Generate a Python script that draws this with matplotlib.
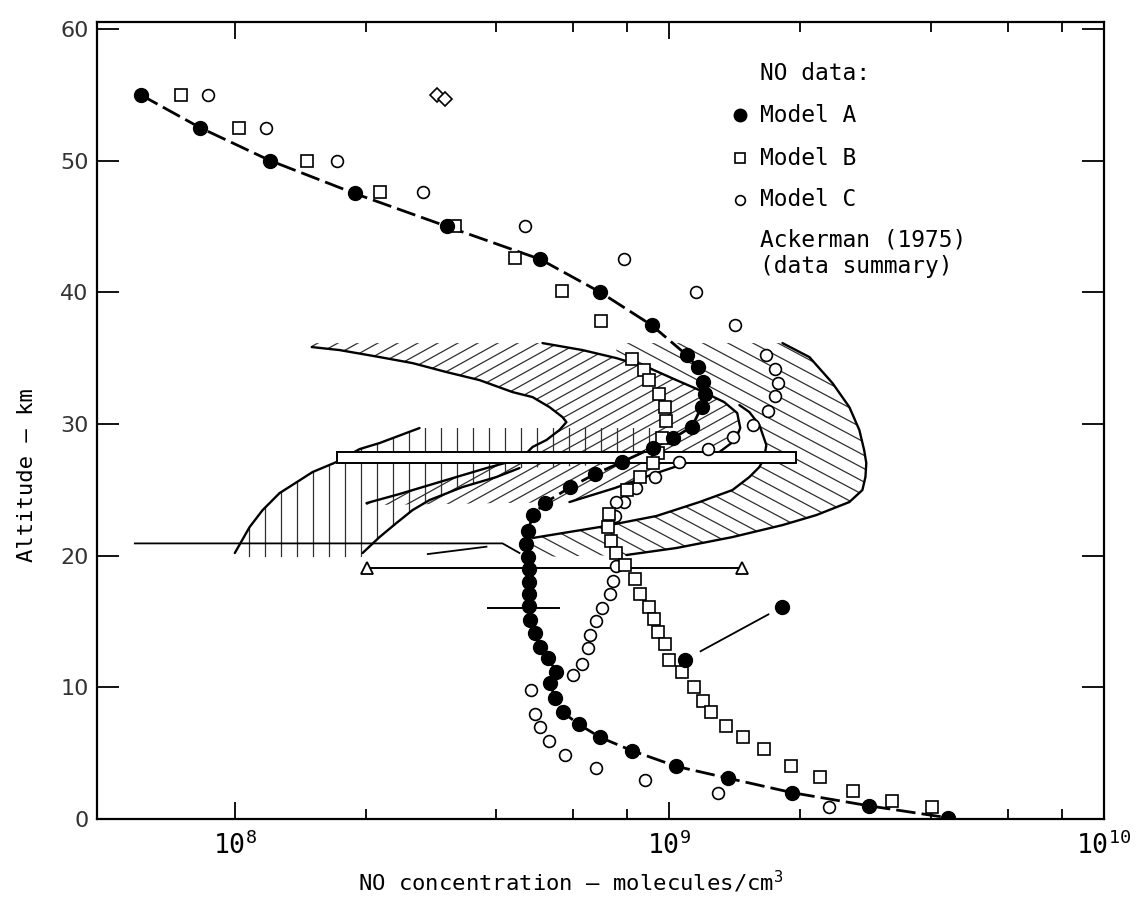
import numpy as np
import matplotlib
matplotlib.use("Agg")
import matplotlib.pyplot as plt
from matplotlib.collections import LineCollection
from matplotlib.patches import Polygon, Rectangle
from matplotlib.ticker import FixedLocator, FuncFormatter, NullFormatter

plt.rcParams['font.family'] = ['DejaVu Sans Mono', 'DejaVu Sans']
plt.rcParams['mathtext.fontset'] = 'custom'
plt.rcParams['mathtext.rm'] = 'DejaVu Sans Mono'
plt.rcParams['mathtext.it'] = 'DejaVu Sans Mono'
plt.rcParams['mathtext.bf'] = 'DejaVu Sans Mono:bold'

# ---------------- data (log10 of NO concentration, altitude km) ----------------
modelA_logc = [7.783, 7.920, 8.081, 8.276, 8.488, 8.703, 8.841, 8.959, 9.041, 9.065,
               9.077, 9.082, 9.074, 9.052, 9.008, 8.962, 8.890, 8.829, 8.772, 8.713,
               8.687, 8.674, 8.671, 8.674, 8.676, 8.678, 8.677, 8.677, 8.680, 8.690,
               8.703, 8.720, 8.740, 8.726, 8.736, 8.755, 8.791, 8.841, 8.913, 9.016,
               9.135, 9.283, 9.460, 9.640]
modelA_alt = [55.0, 52.5, 50.0, 47.5, 45.0, 42.5, 40.0, 37.5, 35.2, 34.3,
              33.2, 32.3, 31.3, 29.8, 28.9, 28.2, 27.1, 26.2, 25.2, 24.0,
              23.1, 21.9, 20.9, 19.9, 19.0, 18.0, 17.1, 16.2, 15.1, 14.1,
              13.1, 12.2, 11.2, 10.3, 9.2, 8.1, 7.2, 6.2, 5.2, 4.0,
              3.1, 2.0, 1.0, 0.1]

modelB_logc = [7.877, 8.009, 8.166, 8.335, 8.506, 8.645, 8.753, 8.843, 8.913, 8.941,
               8.954, 8.975, 8.990, 8.992, 8.983, 8.973, 8.963, 8.933, 8.903, 8.862,
               8.858, 8.866, 8.877, 8.897, 8.921, 8.933, 8.952, 8.964, 8.973, 8.989,
               9.000, 9.029, 9.056, 9.077, 9.096, 9.130, 9.169, 9.218, 9.280, 9.347,
               9.422, 9.512, 9.605]
modelB_alt = [55.0, 52.5, 50.0, 47.6, 45.0, 42.6, 40.1, 37.8, 34.9, 34.1,
              33.3, 32.3, 31.3, 30.2, 28.9, 27.8, 27.0, 26.0, 25.0, 23.2,
              22.2, 21.1, 20.2, 19.3, 18.2, 17.1, 16.1, 15.2, 14.2, 13.3,
              12.1, 11.2, 10.0, 9.0, 8.1, 7.1, 6.2, 5.3, 4.0, 3.2,
              2.1, 1.4, 0.9]

modelC_logc = [7.938, 8.071, 8.235, 8.434, 8.667, 8.895, 9.061, 9.152, 9.222, 9.244,
               9.249, 9.244, 9.226, 9.192, 9.146, 9.088, 9.023, 8.967, 8.922, 8.895,
               8.877, 8.874, 8.877, 8.870, 8.864, 8.845, 8.831, 8.818, 8.812, 8.799,
               8.779, 8.682, 8.691, 8.703, 8.722, 8.760, 8.831, 8.943, 9.111, 9.368]
modelC_alt = [55.0, 52.5, 50.0, 47.6, 45.0, 42.5, 40.0, 37.5, 35.2, 34.2,
              33.1, 32.1, 31.0, 29.9, 29.0, 28.1, 27.1, 26.0, 25.1, 24.1,
              24.1, 23.0, 19.2, 18.1, 17.1, 16.0, 15.0, 14.0, 13.0, 11.8,
              10.9, 9.8, 8.0, 7.0, 5.9, 4.9, 3.9, 3.0, 2.0, 0.9]

extraA_logc = [9.036, 9.259]
extraA_alt = [12.1, 16.1]

diamond_logc = [8.465, 8.483]
diamond_alt = [55.0, 54.7]

# Ackerman (1975) data-summary boundaries
N1_logc = [8.177, 8.241, 8.333, 8.409, 8.487, 8.563, 8.639, 8.685, 8.724, 8.754,
           8.763, 8.747, 8.717, 8.685, 8.667, 8.621, 8.579, 8.471, 8.379, 8.303]
N1_alt = [35.84, 35.61, 35.08, 34.62, 33.94, 33.33, 32.42, 32.04, 31.28, 30.52,
          30.14, 29.54, 28.78, 28.25, 27.64, 27.03, 26.65, 25.59, 24.68, 23.99]
N2_logc = [8.708, 8.800, 8.878, 8.954, 9.016, 9.069, 9.126, 9.156, 9.163, 9.152,
           9.115, 9.046, 8.970, 8.874, 8.770]
N2_alt = [36.14, 35.61, 35.00, 34.24, 33.33, 32.57, 31.66, 30.83, 29.69, 28.78,
          27.87, 27.11, 26.27, 25.13, 24.07]
N3_logc = [9.161, 9.184, 9.207, 9.223, 9.218, 9.207, 9.184, 9.145, 9.069, 8.970,
           8.839, 8.685]
N3_alt = [31.43, 30.90, 29.92, 28.40, 27.41, 26.73, 25.97, 24.98, 24.07, 23.01,
          22.17, 21.34]
O_logc = [9.260, 9.322, 9.375, 9.414, 9.437, 9.448, 9.453, 9.451, 9.444, 9.414,
          9.338, 9.260, 9.145, 9.016, 8.901]
O_alt = [36.14, 35.08, 33.11, 31.28, 29.54, 28.02, 27.03, 25.97, 24.98, 24.07,
         23.08, 22.32, 21.41, 20.58, 20.05]
L1_logc = [8.000, 8.034, 8.064, 8.103, 8.143, 8.179, 8.234, 8.287, 8.333, 8.425]
L1_alt = [20.20, 22.17, 23.46, 24.75, 25.59, 26.35, 27.11, 28.09, 28.55, 29.69]
L2_logc = [8.294, 8.333, 8.372, 8.409, 8.448, 8.524, 8.602, 8.655]
L2_alt = [20.20, 21.41, 22.48, 23.46, 24.22, 25.21, 25.97, 26.65]

H1_logc = [7.770, 8.616, 8.655]
H1_alt = [20.93, 20.93, 20.20]
A1_logc = [8.444, 8.579]
A1_alt = [20.12, 20.68]

bar_logc = [8.234, 9.292]
bar_alt = [27.01, 27.89]
tri_logc = [8.303, 9.166]
tri_alt = 19.06
short_logc = [8.582, 8.747]
short_alt = 16.04

legend_labels = ['Model A', 'Model B', 'Model C']

# ---------------- figure ----------------
fig = plt.figure(figsize=(11.39, 9.14), dpi=100)
fig.patch.set_facecolor('white')
ax = fig.add_axes([0.0852, 0.1039, 0.8841, 0.8720])
ax.set_xscale('log')
ax.set_xlim(10 ** 7.683, 1e10)
ax.set_ylim(0, 60.52)
ax.set_autoscale_on(False)

W, H = ax.bbox.width, ax.bbox.height


def P(lc):
    return 10 ** np.asarray(lc, dtype=float)


def add_hatch(poly_logc, poly_alt, angle, spacing, lw=0.9, color='#303030'):
    verts = np.column_stack([P(poly_logc), poly_alt])
    patch = Polygon(verts, closed=True, facecolor='none', edgecolor='none',
                    transform=ax.transData)
    ax.add_patch(patch)
    segs = []
    if angle == 90:
        for x in np.arange(spacing / 2, W, spacing):
            segs.append([(x / W, 0), (x / W, 1)])
    else:
        t = np.tan(np.radians(angle))
        span = H / abs(t)
        for x0 in np.arange(-span, W + span, spacing):
            segs.append([(x0 / W, 0), ((x0 + H / t) / W, 1)])
    lc = LineCollection(segs, transform=ax.transAxes, colors=color,
                        linewidths=lw, zorder=1)
    lc.set_clip_path(patch)
    ax.add_collection(lc, autolim=False)


# "/" region between nose curves 1 and 2
rs_logc = [8.177, 8.708] + N2_logc[1:] + [8.303] + N1_logc[::-1]
rs_alt = [36.14, 36.14] + N2_alt[1:] + [23.84] + N1_alt[::-1]
add_hatch(rs_logc, rs_alt, 29, 20)

# "\" region between outer curve and inner curves
r3_logc = [8.878] + O_logc + [8.685] + N3_logc[::-1] + [9.126, 9.069, 9.016, 8.954, 8.878]
r3_alt = [36.14] + O_alt + [19.89] + N3_alt[::-1] + [31.66, 32.57, 33.33, 34.24, 35.00]
add_hatch(r3_logc, r3_alt, -28, 25)

# "|" region
v_logc = L1_logc + [8.966, 8.966] + L2_logc[::-1] + [8.294, 8.000]
v_alt = L1_alt + [29.69, 27.03] + L2_alt[::-1] + [19.89, 19.89]
add_hatch(v_logc, v_alt, 90, 16)

# boundary curves
for lc_, al_ in [(N1_logc, N1_alt), (N2_logc, N2_alt), (N3_logc, N3_alt),
                 (O_logc, O_alt), (L1_logc, L1_alt), (L2_logc, L2_alt)]:
    ax.plot(P(lc_), al_, color='k', lw=1.7, zorder=2, solid_capstyle='round',
            solid_joinstyle='round')
ax.plot(P(H1_logc), H1_alt, color='k', lw=1.3, zorder=2)
ax.plot(P(A1_logc), A1_alt, color='k', lw=1.3, zorder=2)

# range bars
x0, x1 = P(bar_logc)
ax.add_patch(Rectangle((x0, bar_alt[0]), x1 - x0, bar_alt[1] - bar_alt[0],
                       facecolor='white', edgecolor='k', lw=1.4, zorder=3))
ax.plot(P(tri_logc), [tri_alt, tri_alt], color='k', lw=1.4, zorder=3)
ax.plot(P(tri_logc), [tri_alt, tri_alt], ls='none', marker='^', ms=9,
        mfc='white', mec='k', mew=1.3, zorder=3)
ax.plot(P(short_logc), [short_alt, short_alt], color='k', lw=1.4, zorder=3)

# models
ax.plot(P(modelA_logc), modelA_alt, color='k', lw=2.0,
        linestyle=(0, (7, 2.2)), zorder=4)
ax.plot(P(modelC_logc), modelC_alt, ls='none', marker='o', ms=8.5,
        mfc='white', mec='k', mew=1.2, zorder=5)
ax.plot(P(modelB_logc), modelB_alt, ls='none', marker='s', ms=8,
        mfc='white', mec='k', mew=1.2, zorder=6)
ax.plot(P(modelA_logc), modelA_alt, ls='none', marker='o', ms=10,
        color='k', zorder=7)

# isolated pair
ea = np.asarray(extraA_logc)
eb = np.asarray(extraA_alt)
f = np.array([0.16, 0.86])
ax.plot(10 ** (ea[0] + f * (ea[1] - ea[0])), eb[0] + f * (eb[1] - eb[0]),
        color='k', lw=1.3, zorder=4)
ax.plot(P(extraA_logc), extraA_alt, ls='none', marker='o', ms=10, color='k', zorder=7)

ax.plot(P(diamond_logc), diamond_alt, ls='none', marker='D', ms=7,
        mfc='white', mec='k', mew=1.2, zorder=5)

# legend (hand-placed like original)
tx, mx = 0.658, 0.6385
ax.text(tx, 0.936, 'NO data:', transform=ax.transAxes, ha='left', va='center', fontsize=16.5)
ax.plot([mx], [0.883], transform=ax.transAxes, marker='o', ms=9, color='k', clip_on=False)
ax.plot([mx], [0.829], transform=ax.transAxes, marker='s', ms=7, mfc='white', mec='k',
        mew=1.2, clip_on=False)
ax.plot([mx], [0.777], transform=ax.transAxes, marker='o', ms=7, mfc='white', mec='k',
        mew=1.2, clip_on=False)
for lab, yy in zip(legend_labels, [0.883, 0.829, 0.777]):
    ax.text(tx, yy, lab, transform=ax.transAxes, ha='left', va='center', fontsize=16.5)
ax.text(tx, 0.726, 'Ackerman (1975)', transform=ax.transAxes, ha='left', va='center', fontsize=16.5)
ax.text(tx, 0.693, '(data summary)', transform=ax.transAxes, ha='left', va='center', fontsize=16.5)

# axes styling
for s in ax.spines.values():
    s.set_linewidth(1.6)
ax.xaxis.set_major_locator(FixedLocator([1e8, 1e9, 1e10]))
ax.xaxis.set_minor_locator(FixedLocator([2e8, 4e8, 6e8, 8e8, 2e9, 4e9, 6e9, 8e9]))
ax.xaxis.set_minor_formatter(NullFormatter())
ax.xaxis.set_major_formatter(FuncFormatter(
    lambda v, p: r'$\mathregular{10^{%d}}$' % int(round(np.log10(v)))))
ax.tick_params(axis='x', which='both', direction='in', top=True, bottom=True,
               width=1.3, labelsize=19, pad=9)
ax.tick_params(axis='x', which='major', length=12)
ax.tick_params(axis='x', which='minor', length=7)
ax.yaxis.set_major_locator(FixedLocator([0, 10, 20, 30, 40, 50, 60]))
ax.yaxis.set_major_formatter(FuncFormatter(lambda v, p: '%d' % v))
ax.tick_params(axis='y', which='major', direction='in', left=True, right=True,
               length=16, width=1.3, labelsize=16, pad=6)
for lbl in ax.get_yticklabels():
    lbl.set_fontfamily('DejaVu Sans')
    lbl.set_color('#333333')

ax.set_xlabel('NO concentration — molecules/cm$^{3}$', fontsize=16)
ax.xaxis.set_label_coords(0.47, -0.062)
ax.set_ylabel('Altitude — km', fontsize=16)
ax.yaxis.set_label_coords(-0.060, 0.4316)

fig.savefig('out.png', dpi=100, facecolor='white')
